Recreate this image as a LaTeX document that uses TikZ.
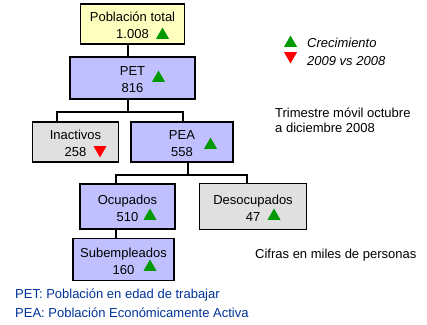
\documentclass[tikz,border=0pt]{standalone}
\usepackage{fontspec}
\setmainfont{Liberation Sans}
\usetikzlibrary{positioning,shapes.geometric}
\definecolor{ptyellow}{RGB}{255,255,192}
\definecolor{boxblue}{RGB}{192,192,255}
\definecolor{boxgray}{RGB}{224,224,224}
\definecolor{upgreen}{RGB}{0,153,0}
\definecolor{downred}{RGB}{255,0,0}
\definecolor{noteblue}{RGB}{0,51,153}
\newcommand{\topstrut}{\rule{0pt}{18pt}}

\begin{document}
\begin{tikzpicture}[x=1pt,y=-1pt,on grid,font=\fontsize{13}{17}\selectfont,
  box/.style={draw,line width=1.2pt,align=center,inner sep=0pt},
  link/.style={line width=1.2pt},
  up/.style={regular polygon,regular polygon sides=3,minimum size=15pt,inner sep=0pt,fill=upgreen,anchor=south},
  down/.style={up,shape border rotate=180,fill=downred,anchor=north},
  txt/.style={anchor=base west,inner sep=0pt}]

\fill[white] (0,0) rectangle (427,324);
\useasboundingbox (0,0) rectangle (427,324);

% boxes
\node[box,fill=ptyellow,minimum width=104pt,minimum height=40pt] (pt) at (132.5,24) {\topstrut Población total\\1.008\strut};
\node[box,fill=boxblue,minimum width=125pt,minimum height=42pt] (pet) [below=54pt of pt] {\topstrut PET\\816\strut};
\node[box,fill=boxgray,minimum width=86pt,minimum height=40pt] (ina) [below left=64pt and 57pt of pet] {\topstrut Inactivos\\258\strut};
\node[box,fill=boxblue,minimum width=102pt,minimum height=40pt] (pea) [right=106.5pt of ina] {\topstrut PEA\\558\strut};
\node[box,fill=boxblue,minimum width=95pt,minimum height=45pt] (ocu) [below left=64.5pt and 54.5pt of pea] {\topstrut Ocupados\\510\strut};
\node[box,fill=boxgray,minimum width=107pt,minimum height=46pt] (des) [right=125.5pt of ocu] {\topstrut Desocupados\\47\strut};
\node[box,fill=boxblue,minimum width=101pt,minimum height=42pt] (sub) [below left=53pt and 4pt of ocu] {\topstrut Subempleados\\160\strut};

% triangles
\node[up] (pt-up) at (162.5,39) {};
\node[up] (pet-up) at (158.5,82) {};
\node[down] (ina-down) at (100,146) {};
\node[up] (pea-up) at (210.5,149) {};
\node[up] (ocu-up) at (150,220) {};
\node[up] (des-up) at (274,220) {};
\node[up] (sub-up) at (150,271) {};

% connectors
\coordinate (fork1) at (128,112);
\coordinate (fork2) at (188,175);
\draw[link] ([xshift=-4.5pt]pt.south) -- ([xshift=-4.5pt]pt.south |- pet.north);
\draw[link] (fork1 |- pet.south) -- (fork1);
\draw[link] ([xshift=-18.5pt]ina.north) |- (fork1) -| ([xshift=1pt]pea.north);
\draw[link] (fork2 |- pea.south) -- (fork2);
\draw[link] ([xshift=-11.5pt]ocu.north) |- (fork2) -| ([xshift=-6pt]des.north);
\draw[link] ([xshift=-11.5pt]ocu.south) -- ([xshift=-11.5pt]ocu.south |- sub.north);

% legend and notes
\node[up] (key-up) at (290.5,47) {};
\node[down] (key-down) at (290.5,52) {};
\node[txt,font=\fontsize{13}{17}\selectfont\itshape] (grow) at (307,47) {Crecimiento};
\node[txt,font=\fontsize{13}{17}\selectfont\itshape] (years) at (307,65) {2009 vs 2008};
\node[txt] (trim1) at (275,117) {Trimestre móvil octubre};
\node[txt] (trim2) at (275,132) {a diciembre 2008};
\node[txt] (units) at (255,258) {Cifras en miles de personas};
\node[txt,text=noteblue] (petdef) at (15,298) {PET: Población en edad de trabajar};
\node[txt,text=noteblue] (peadef) at (15,317) {PEA: Población Económicamente Activa};
\end{tikzpicture}
\end{document}
